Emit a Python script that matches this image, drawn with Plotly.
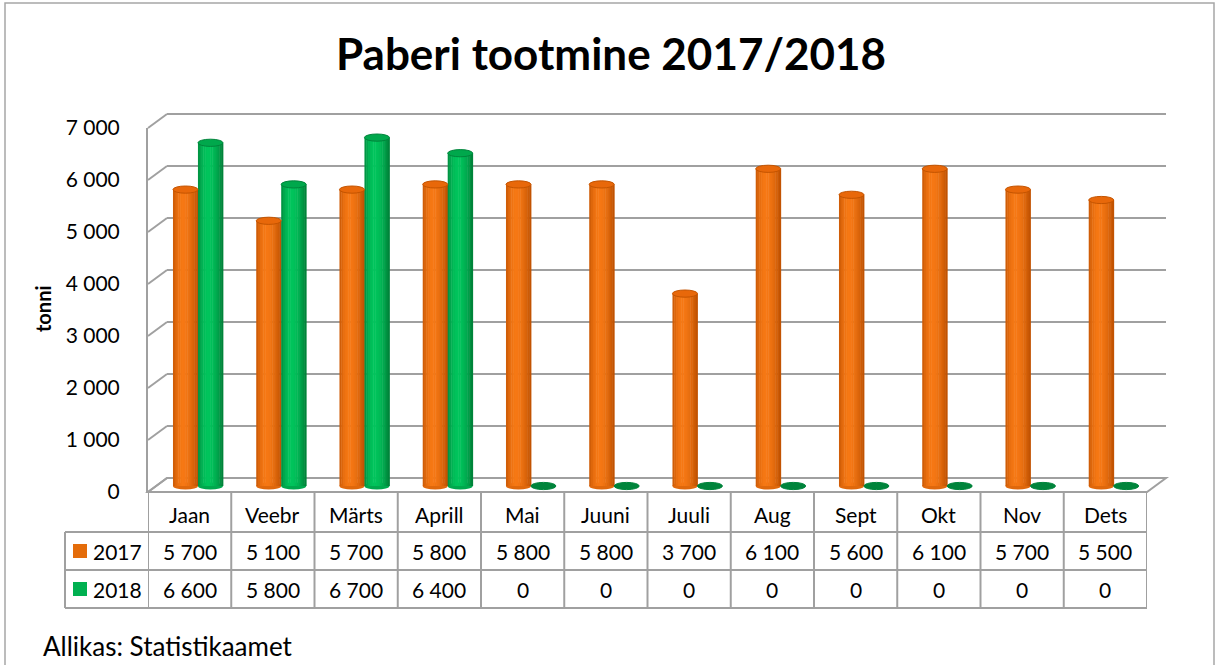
import plotly.graph_objects as go

# ---------------- data ----------------
months = ["Jaan", "Veebr", "Märts", "Aprill", "Mai", "Juuni", "Juuli", "Aug", "Sept", "Okt", "Nov", "Dets"]
values_2017 = [5700, 5100, 5700, 5800, 5800, 5800, 3700, 6100, 5600, 6100, 5700, 5500]
values_2018 = [6600, 5800, 6700, 6400, 0, 0, 0, 0, 0, 0, 0, 0]
series_names = ["2017", "2018"]
y_ticks = [0, 1000, 2000, 3000, 4000, 5000, 6000, 7000]
title_text = "Paberi tootmine 2017/2018"
y_title = "tonni"
source_text = "Allikas: Statistikaamet"

# ---------------- geometry / style ----------------
W, H = 1216, 665
FONT = "Lato"
GRID = "#a0a0a0"
F_LEFT, F_RIGHT = 148, 1147        # front plane x extent (px)
F_ZERO, F_TOP = 492, 128           # front plane y of 0 and 7000 (px)
DX, DY = 19, 14                    # depth offset of back wall (px)
MID_DY = 6                         # bars sit at middle depth
Y_MAX = 7000
ROW_Y = [492, 532, 570, 608]       # table row boundaries (px)
LEG_X = 65


def px(x):
    return x / W


def py(y):
    return 1 - y / H


def fmt(v):
    return f"{v:,}".replace(",", " ")


def mix(c1, c2, t):
    a = [int(c1[i:i + 2], 16) for i in (1, 3, 5)]
    b = [int(c2[i:i + 2], 16) for i in (1, 3, 5)]
    return "#%02x%02x%02x" % tuple(round(a[j] + (b[j] - a[j]) * t) for j in range(3))


styles = [
    dict(off=-0.20, dark="#bc4f00", light="#f67814", top="#e8680a", rim="#c45400", key="#e46c0a"),
    dict(off=0.10, dark="#007d36", light="#00c45c", top="#00a84c", rim="#00843b", key="#00b050"),
]
BAR_W = 0.30
N_STRIPES = 14

px_per_unit = (F_ZERO - F_TOP) / Y_MAX
shift_mid = MID_DY / px_per_unit
ell_half = 3.6 / px_per_unit

xs = list(range(len(months)))
series_values = [values_2017, values_2018]

fig = go.Figure()

# invisible helper trace on the front axis so that it gets created
fig.add_trace(go.Scatter(x=xs, y=values_2017, mode="none", showlegend=False,
                         hoverinfo="skip", xaxis="x", yaxis="y"))


def profile(t):
    # brightness across the cylinder, highlight slightly left of centre
    c = 0.4
    if t < c:
        d = (c - t) / c
        return 1 - 0.8 * d * d
    d = (t - c) / (1 - c)
    return 1 - d ** 1.8


# cylinders made of vertical stripes (shading)
for vals, st in zip(series_values, styles):
    sw = BAR_W / N_STRIPES
    for k in range(N_STRIPES):
        t = (k + 0.5) / N_STRIPES
        col = mix(st["dark"], st["light"], profile(t))
        fig.add_trace(go.Bar(
            x=xs, y=vals, offset=st["off"] + k * sw, width=sw * 1.25,
            marker=dict(color=col, line=dict(width=0)),
            xaxis="x", yaxis="y3", showlegend=False, hoverinfo="skip"))

shapes = []

# outer chart border
shapes.append(dict(type="rect", xref="paper", yref="paper",
                   x0=px(5), x1=px(1214), y0=py(720), y1=py(3),
                   line=dict(color="#a6a6a6", width=1.5), layer="below"))

# floor
shapes.append(dict(type="path", xref="paper", yref="paper",
                   path=f"M {px(F_LEFT)},{py(F_ZERO)} L {px(F_RIGHT)},{py(F_ZERO)} "
                        f"L {px(F_RIGHT + DX)},{py(F_ZERO - DY)} L {px(F_LEFT + DX)},{py(F_ZERO - DY)} Z",
                   line=dict(color=GRID, width=2), fillcolor="white", layer="below"))

# back-wall gridlines and left-wall slants
for v in y_ticks:
    yf = F_ZERO - v * px_per_unit
    yb = yf - DY
    shapes.append(dict(type="line", xref="paper", yref="paper",
                       x0=px(F_LEFT + DX), x1=px(F_RIGHT + DX), y0=py(yb), y1=py(yb),
                       line=dict(color=GRID, width=2), layer="below"))
    shapes.append(dict(type="line", xref="paper", yref="paper",
                       x0=px(F_LEFT), x1=px(F_LEFT + DX), y0=py(yf), y1=py(yb),
                       line=dict(color=GRID, width=2), layer="below"))

# cylinder bottoms and tops
for vals, st in zip(series_values, styles):
    for i, v in enumerate(vals):
        x0 = i + st["off"]
        x1 = x0 + BAR_W
        if v > 0:
            shapes.append(dict(type="circle", xref="x", yref="y3",
                               x0=x0, x1=x1, y0=-ell_half, y1=ell_half,
                               fillcolor=mix(st["dark"], st["light"], 0.6),
                               line=dict(width=0), layer="below"))
        shapes.append(dict(type="circle", xref="x", yref="y3",
                           x0=x0, x1=x1, y0=v - ell_half, y1=v + ell_half,
                           fillcolor=st["top"] if v > 0 else st["rim"],
                           line=dict(color=st["rim"], width=1), layer="above"))

# data table grid
for i in range(len(months) + 1):
    shapes.append(dict(type="line", xref="x", yref="paper",
                       x0=i - 0.5, x1=i - 0.5, y0=py(ROW_Y[0]), y1=py(ROW_Y[-1]),
                       line=dict(color=GRID, width=2)))
for yrow in ROW_Y[1:]:
    shapes.append(dict(type="line", xref="paper", yref="paper",
                       x0=px(LEG_X), x1=px(F_RIGHT), y0=py(yrow), y1=py(yrow),
                       line=dict(color=GRID, width=2)))
shapes.append(dict(type="line", xref="paper", yref="paper",
                   x0=px(LEG_X), x1=px(LEG_X), y0=py(ROW_Y[1]), y1=py(ROW_Y[-1]),
                   line=dict(color=GRID, width=2)))

annotations = []
tf = dict(family=FONT, size=21, color="#000000")

# header row (categories)
for i, m in enumerate(months):
    annotations.append(dict(x=i, y=py((ROW_Y[0] + ROW_Y[1]) / 2 + 2), xref="x", yref="paper",
                            text=m, showarrow=False, font=tf, xanchor="center", yanchor="middle"))

# value rows with legend keys
for r, (name, vals, st) in enumerate(zip(series_names, series_values, styles)):
    yc = (ROW_Y[r + 1] + ROW_Y[r + 2]) / 2
    for i, v in enumerate(vals):
        annotations.append(dict(x=i, y=py(yc), xref="x", yref="paper", text=fmt(v),
                                showarrow=False, font=tf, xanchor="center", yanchor="middle"))
    shapes.append(dict(type="rect", xref="paper", yref="paper",
                       x0=px(73), x1=px(87), y0=py(yc + 7), y1=py(yc - 7),
                       fillcolor=st["key"], line=dict(width=0)))
    annotations.append(dict(x=px(91), y=py(yc), xref="paper", yref="paper", text=name,
                            showarrow=False, font=tf, xanchor="left", yanchor="middle"))

# title
annotations.append(dict(x=px(611), y=py(53), xref="paper", yref="paper", text=f"<b>{title_text}</b>",
                        showarrow=False, font=dict(family=FONT, size=44, color="#000000"),
                        xanchor="center", yanchor="middle"))
# y axis title
annotations.append(dict(x=px(43), y=py(309), xref="paper", yref="paper", text=f"<b>{y_title}</b>",
                        showarrow=False, textangle=-90, font=dict(family=FONT, size=20, color="#000000"),
                        xanchor="center", yanchor="middle"))
# source
annotations.append(dict(x=px(41), y=py(646), xref="paper", yref="paper", text=source_text,
                        showarrow=False, font=dict(family=FONT, size=26, color="#000000"),
                        xanchor="left", yanchor="middle"))

y_dom = [py(F_ZERO), py(F_TOP)]

fig.update_layout(
    template="none",
    width=W, height=H, autosize=False,
    margin=dict(l=0, r=0, t=0, b=0, pad=0, autoexpand=False),
    paper_bgcolor="white", plot_bgcolor="rgba(0,0,0,0)",
    barmode="overlay", showlegend=False,
    xaxis=dict(domain=[px(F_LEFT), px(F_RIGHT)], range=[-0.5, len(months) - 0.5],
               visible=False, fixedrange=True, automargin=False),
    yaxis=dict(domain=y_dom, range=[0, Y_MAX], tickvals=y_ticks, automargin=False,
               ticktext=[fmt(v) for v in y_ticks], showgrid=False, zeroline=False,
               showline=True, linecolor=GRID, linewidth=2, ticks="",
               ticklabelstandoff=22, tickfont=dict(family=FONT, size=21, color="#000000")),
    yaxis3=dict(domain=y_dom, overlaying="y", anchor="x", automargin=False,
                range=[-shift_mid, Y_MAX - shift_mid], visible=False),
    shapes=shapes, annotations=annotations,
)

fig.write_html("out.html", config={"displayModeBar": False},
               post_script="document.body.style.margin='0px';")
